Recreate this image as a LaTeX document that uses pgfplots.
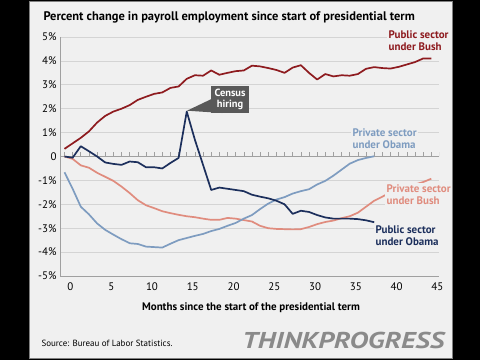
\documentclass[border=0pt]{standalone}
\usepackage{fontspec}
\setmainfont{PT Sans}
\usepackage{pgfplots}
\pgfplotsset{compat=1.18}
\definecolor{panelbg}{HTML}{F0F0F0}
\definecolor{bushpub}{HTML}{8E1B1F}
\definecolor{obamapub}{HTML}{1C2F5C}
\definecolor{obamapriv}{HTML}{7E9CC0}
\definecolor{bushpriv}{HTML}{E08C7E}
\definecolor{gridc}{HTML}{D4D4D4}
\definecolor{axisc}{HTML}{A0A0A0}
\definecolor{calloutc}{HTML}{595959}
\definecolor{logoc}{HTML}{8A8A8A}
\begin{document}
\begin{tikzpicture}[x=1bp,y=1bp]
\fill[black] (0,0) rectangle (480,360);
\fill[panelbg,draw=gray,line width=1bp] (29,1.5) rectangle (452,358.5);
\begin{axis}[at={(60bp,84bp)}, anchor=south west, scale only axis,
  width=379bp, height=239bp,
  xmin=-0.55, xmax=45.95, ymin=-5, ymax=5,
  axis lines*=left, axis line style={axisc, line width=0.8bp},
  ytick={-5,...,5},
  yticklabels={-5\%,-4\%,-3\%,-2\%,-1\%,0,1\%,2\%,3\%,4\%,5\%},
  xtick={0,5,...,45},
  ymajorgrids, grid style={gridc, line width=0.6bp},
  major tick length=0pt,
  tick label style={font=\fontsize{11}{13}\selectfont, text=black},
  xticklabel style={xshift=6bp, yshift=-3bp},
  /pgf/number format/assume math mode=true,
  every axis plot/.append style={line width=1.7bp, line join=round, mark=none},
]
\draw[axisc, line width=0.8bp] (axis cs:-0.55,0) -- (axis cs:45.95,0);
\pgfplotsinvokeforeach{0,...,45}{\draw[axisc, line width=0.6bp] (axis cs:#1,0) -- ([yshift=4bp]axis cs:#1,0);}
\draw[axisc, line width=0.6bp] (axis cs:45.95,0) -- ([yshift=4bp]axis cs:45.95,0);
% Public sector under Bush
\addplot[bushpub] coordinates {
(0,0.32)(1,0.55)(2,0.78)(3,1.05)(4,1.42)(5,1.7)(6,1.88)(7,2.0)(8,2.15)(9,2.37)
(10,2.5)(11,2.62)(12,2.68)(13,2.87)(14,2.93)(15,3.25)(16,3.4)(17,3.38)(18,3.6)(19,3.42)
(20,3.5)(21,3.57)(22,3.6)(23,3.8)(24,3.77)(25,3.7)(26,3.62)(27,3.5)(28,3.72)(29,3.82)
(30,3.5)(31,3.22)(32,3.45)(33,3.35)(34,3.4)(35,3.38)(36,3.45)(37,3.67)(38,3.74)(39,3.7)
(40,3.68)(41,3.75)(42,3.85)(43,3.95)(44,4.1)(45,4.1)};
% Private sector under Bush
\addplot[bushpriv] coordinates {
(0,0)(1,-0.1)(2,-0.37)(3,-0.47)(4,-0.68)(5,-0.85)(6,-1.02)(7,-1.26)(8,-1.53)(9,-1.83)
(10,-2.04)(11,-2.16)(12,-2.29)(13,-2.37)(14,-2.44)(15,-2.5)(16,-2.54)(17,-2.6)(18,-2.65)(19,-2.65)
(20,-2.57)(21,-2.6)(22,-2.66)(23,-2.72)(24,-2.9)(25,-3.0)(26,-3.03)(27,-3.04)(28,-3.05)(29,-3.04)
(30,-2.95)(31,-2.83)(32,-2.74)(33,-2.68)(34,-2.58)(35,-2.5)(36,-2.35)(37,-2.1)(38,-1.85)(39,-1.68)
(40,-1.5)(41,-1.43)(42,-1.3)(43,-1.17)(44,-1.07)(45,-0.93)};
% Private sector under Obama
\addplot[obamapriv] coordinates {
(0,-0.66)(1,-1.35)(2,-2.1)(3,-2.42)(4,-2.8)(5,-3.07)(6,-3.27)(7,-3.46)(8,-3.63)(9,-3.66)
(10,-3.77)(11,-3.79)(12,-3.81)(13,-3.65)(14,-3.5)(15,-3.41)(16,-3.32)(17,-3.24)(18,-3.12)(19,-3.03)
(20,-2.9)(21,-2.78)(22,-2.6)(23,-2.45)(24,-2.2)(25,-1.97)(26,-1.8)(27,-1.7)(28,-1.55)(29,-1.45)
(30,-1.37)(31,-1.17)(32,-1.02)(33,-0.8)(34,-0.55)(35,-0.3)(36,-0.15)(37,-0.06)(38,0.01)};
% Public sector under Obama
\addplot[obamapub] coordinates {
(0,0)(1,-0.05)(2,0.43)(3,0.22)(4,0.0)(5,-0.25)(6,-0.31)(7,-0.35)(8,-0.21)(9,-0.24)
(10,-0.45)(11,-0.45)(12,-0.5)(13,-0.27)(14,-0.06)(15,1.88)(16,0.7)(17,-0.35)(18,-1.4)(19,-1.3)
(20,-1.35)(21,-1.4)(22,-1.45)(23,-1.6)(24,-1.68)(25,-1.75)(26,-1.85)(27,-2.0)(28,-2.4)(29,-2.27)
(30,-2.32)(31,-2.45)(32,-2.55)(33,-2.6)(34,-2.6)(35,-2.6)(36,-2.62)(37,-2.67)(38,-2.75)};
\end{axis}
% title
\node[anchor=west, font=\fontsize{12.5}{14}\selectfont\bfseries] at (40,343) {Percent change in payroll employment since start of presidential term};
% x label
\node[font=\fontsize{11}{13}\selectfont\bfseries] at (251,52) {Months since the start of the presidential term};
% source
\node[anchor=west, font=\fontsize{9}{11}\selectfont] at (38,17) {Source: Bureau of Labor Statistics.};
% logo
\node[anchor=west, xscale=1.24, font=\fontsize{23}{25}\selectfont\bfseries\itshape, text=logoc] at (238,20) {THINKPROGRESS};
% callout
\fill[calloutc] (187,249.3) -- (211.5,261) -- (222,247) -- cycle;
\fill[calloutc] (211,247) rectangle (249,274);
\node[text=white, align=center, font=\fontsize{10.5}{11.5}\selectfont\bfseries] at (230,260.5) {Census\\hiring};
% series labels
\node[anchor=west, fill=panelbg, inner sep=1.5bp, align=left, text=bushpub, font=\fontsize{11}{12}\selectfont\bfseries] at (387,319) {Public sector\\under Bush};
\node[anchor=west, fill=panelbg, inner sep=1.5bp, align=left, text=obamapriv, font=\fontsize{11}{12}\selectfont\bfseries] at (351,221) {Private sector\\under Obama};
\node[anchor=west, fill=panelbg, inner sep=1.5bp, align=left, text=bushpriv, font=\fontsize{11}{12}\selectfont\bfseries] at (385,165.5) {Private sector\\under Bush};
\node[anchor=west, fill=panelbg, inner sep=1.5bp, align=left, text=obamapub, font=\fontsize{11}{12}\selectfont\bfseries] at (374,124) {Public sector\\under Obama};
\end{tikzpicture}
\end{document}
